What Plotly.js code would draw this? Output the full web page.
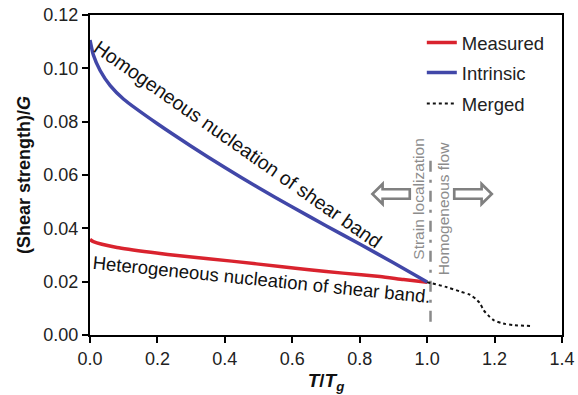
<!DOCTYPE html>
<html>
<head>
<meta charset="utf-8">
<script src="https://cdn.plot.ly/plotly-3.0.1.min.js"></script>
<style>html,body{margin:0;padding:0;background:#fff;}#chart{width:578px;height:395px;}</style>
</head>
<body>
<div id="chart"></div>
<script>
// Data
const intrinsicX = [0, 0.01, 0.03, 0.06, 0.1, 0.2, 0.3, 0.4, 0.5, 0.6, 0.7, 0.8, 0.9, 1.0];
const intrinsicY = [0.1106, 0.1050, 0.0992, 0.0935, 0.0884, 0.0792, 0.0708, 0.0628, 0.0552, 0.0480, 0.0410, 0.0341, 0.0271, 0.0199];
const measuredX = [0, 0.01, 0.08, 0.18, 0.28, 0.42, 0.57, 0.65, 0.75, 0.86, 0.93, 1.0];
const measuredY = [0.0358, 0.0350, 0.0328, 0.0310, 0.0295, 0.0277, 0.0256, 0.0245, 0.0232, 0.0219, 0.0208, 0.0198];
const mergedX = [1.0, 1.013, 1.059, 1.098, 1.128, 1.148, 1.157, 1.167, 1.18, 1.197, 1.225, 1.257, 1.306];
const mergedY = [0.0198, 0.0194, 0.0179, 0.0163, 0.0150, 0.0131, 0.0119, 0.0094, 0.0075, 0.0056, 0.0043, 0.0037, 0.0034];
const boundaryX = [1.01, 1.01];
const boundaryY = [0.005, 0.0675];
const xTicks = [0, 0.2, 0.4, 0.6, 0.8, 1.0, 1.2, 1.4];
const yTicks = [0, 0.02, 0.04, 0.06, 0.08, 0.10, 0.12];
const seriesNames = ['Measured', 'Intrinsic', 'Merged'];

const FONT = 'Liberation Sans, Arial, Helvetica, sans-serif';

const traces = [
  {x: boundaryX, y: boundaryY, mode: 'lines', showlegend: false, hoverinfo: 'skip',
   line: {color: '#8a8a8a', width: 2.5, dash: '11px,8px,3px,8px'}},
  {x: measuredX, y: measuredY, name: seriesNames[0], mode: 'lines', legend: 'legend',
   line: {color: '#d9232e', width: 3.5, shape: 'spline', smoothing: 0.6}},
  {x: intrinsicX, y: intrinsicY, name: seriesNames[1], mode: 'lines', legend: 'legend2',
   line: {color: '#4147a8', width: 3.5, shape: 'spline', smoothing: 0.6}},
  {x: mergedX, y: mergedY, name: seriesNames[2], mode: 'lines', legend: 'legend3',
   line: {color: '#111', width: 2, dash: 'dot', shape: 'spline', smoothing: 0.8}}
];

const legendBase = {xanchor: 'left', yanchor: 'middle', bgcolor: 'rgba(0,0,0,0)',
  font: {family: FONT, size: 18.5, color: '#222'}, borderwidth: 0};

const layout = {
  width: 578, height: 395,
  margin: {l: 90, r: 16, t: 15, b: 60},
  paper_bgcolor: '#fff', plot_bgcolor: '#fff',
  font: {family: FONT, size: 18, color: '#222'},
  xaxis: {
    range: [0, 1.4], tickvals: xTicks, tickformat: '.1f',
    showline: true, linecolor: '#000', linewidth: 2, mirror: true,
    ticks: 'outside', ticklen: 6, tickwidth: 2, tickcolor: '#000',
    showgrid: false, zeroline: false,
    tickfont: {family: FONT, size: 18, color: '#222'},
    title: {text: '<b><i>T</i>/<i>T</i><sub><i>g</i></sub></b>', standoff: 6,
            font: {family: FONT, size: 19, color: '#111'}}
  },
  yaxis: {
    range: [0, 0.12], tickvals: yTicks, tickformat: '.2f',
    showline: true, linecolor: '#000', linewidth: 2, mirror: true,
    ticks: 'outside', ticklen: 6, tickwidth: 2, tickcolor: '#000',
    showgrid: false, zeroline: false,
    tickfont: {family: FONT, size: 18, color: '#222'},
    title: {text: '<b>(Shear strength)/<i>G</i></b>', standoff: 8,
            font: {family: FONT, size: 18, color: '#111'}}
  },
  legend: Object.assign({}, legendBase, {x: 0.703, y: 0.9125}),
  legend2: Object.assign({}, legendBase, {x: 0.703, y: 0.8188}),
  legend3: Object.assign({}, legendBase, {x: 0.703, y: 0.7219}),
  annotations: [
    {x: 0.438, y: 0.0716, xref: 'x', yref: 'y', text: 'Homogeneous nucleation of shear band',
     showarrow: false, textangle: 35, font: {family: FONT, size: 19.5, color: '#111'}},
    {x: 0.51, y: 0.0207, xref: 'x', yref: 'y', text: 'Heterogeneous nucleation of shear band.',
     showarrow: false, textangle: 5.8, font: {family: FONT, size: 18.5, color: '#111'}},
    {x: 0.972, y: 0.0510, xref: 'x', yref: 'y', text: 'Strain localization',
     showarrow: false, textangle: -90, font: {family: FONT, size: 15.5, color: '#8c8c8c'}},
    {x: 1.047, y: 0.0475, xref: 'x', yref: 'y', text: 'Homogeneous flow',
     showarrow: false, textangle: -90, font: {family: FONT, size: 15.5, color: '#8c8c8c'}},
    {x: 0.893, y: 0.0533, xref: 'x', yref: 'y', text: '\u21E6',
     showarrow: false, font: {family: 'DejaVu Sans', size: 54, color: '#808080'}},
    {x: 1.137, y: 0.0533, xref: 'x', yref: 'y', text: '\u21E8',
     showarrow: false, font: {family: 'DejaVu Sans', size: 54, color: '#808080'}}
  ]
};

Plotly.newPlot('chart', traces, layout, {displayModeBar: false, staticPlot: true});
</script>
</body>
</html>
